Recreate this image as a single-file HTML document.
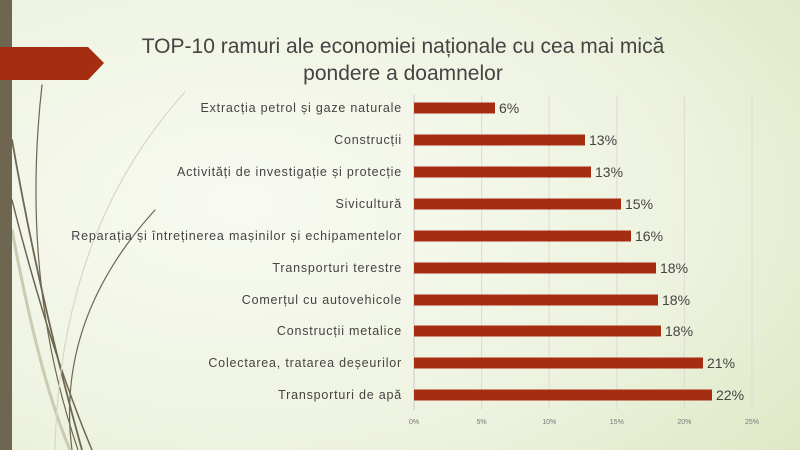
<!DOCTYPE html>
<html><head><meta charset="utf-8"><style>
body{margin:0;width:800px;height:450px;overflow:hidden;font-family:"Century Gothic","Liberation Sans",sans-serif}
</style></head><body>
<svg width="800" height="450" xmlns="http://www.w3.org/2000/svg">
<defs>
<radialGradient id="bg" cx="0.3" cy="0.45" r="0.9">
<stop offset="0" stop-color="#f8faf2"/><stop offset="0.6" stop-color="#eef3e0"/><stop offset="1" stop-color="#dde8c4"/></radialGradient>
</defs>
<rect width="800" height="450" fill="url(#bg)"/>
<g fill="none" stroke-linecap="round">
<path d="M12 140 Q40 300 82 450" stroke="#6e6650" stroke-width="1.8"/>
<path d="M42 85 Q20 280 78 450" stroke="#6e6650" stroke-width="1.2"/>
<path d="M12 200 Q50 350 92 450" stroke="#6e6650" stroke-width="1.5"/>
<path d="M155 210 Q55 320 72 450" stroke="#6e6650" stroke-width="1.2"/>
<path d="M12 230 Q40 380 70 450" stroke="#c9ccb0" stroke-width="3"/>
<path d="M185 92 Q60 230 55 450" stroke="#d5d8c4" stroke-width="1.2"/>
</g>
<rect x="0" y="0" width="12" height="450" fill="#6e6650"/>
<polygon points="0,47 88,47 104,63 88,80 0,80" fill="#a52e12"/>
<text x="403" y="53" font-size="21" fill="#444" text-anchor="middle">TOP-10 ramuri ale economiei naționale cu cea mai mică</text>
<text x="403" y="80" font-size="21" fill="#444" text-anchor="middle">pondere a doamnelor</text>
<g stroke="#dcdcd4" stroke-width="1">
<line x1="481.6" y1="95" x2="481.6" y2="410"/><line x1="549.2" y1="95" x2="549.2" y2="410"/><line x1="616.8" y1="95" x2="616.8" y2="410"/><line x1="684.4" y1="95" x2="684.4" y2="410"/><line x1="752" y1="95" x2="752" y2="410"/>
</g>
<line x1="414" y1="95" x2="414" y2="410" stroke="#ccc"/>
<g font-size="7" fill="#777" text-anchor="middle">
<text x="414" y="424">0%</text><text x="481.6" y="424">5%</text><text x="549.2" y="424">10%</text><text x="616.8" y="424">15%</text><text x="684.4" y="424">20%</text><text x="752" y="424">25%</text>
</g>
<g fill="#a52e12">
<rect x="414" y="102.5" width="81" height="11"/>
<rect x="414" y="134.5" width="171" height="11"/>
<rect x="414" y="166.5" width="177" height="11"/>
<rect x="414" y="198.5" width="207" height="11"/>
<rect x="414" y="230.5" width="217" height="11"/>
<rect x="414" y="262.5" width="242" height="11"/>
<rect x="414" y="294.5" width="244" height="11"/>
<rect x="414" y="325.5" width="247" height="11"/>
<rect x="414" y="357.5" width="289" height="11"/>
<rect x="414" y="389.5" width="298" height="11"/>
</g>
<g font-size="14" fill="#444">
<text x="499" y="113">6%</text><text x="589" y="145">13%</text><text x="595" y="177">13%</text><text x="625" y="209">15%</text><text x="635" y="241">16%</text><text x="660" y="273">18%</text><text x="662" y="305">18%</text><text x="665" y="336">18%</text><text x="707" y="368">21%</text><text x="716" y="400">22%</text>
</g>
<g font-size="12.5" fill="#444" text-anchor="end" letter-spacing="0.8">
<text x="402" y="112">Extracția petrol și gaze naturale</text>
<text x="402" y="144">Construcții</text>
<text x="402" y="176">Activități de investigație și protecție</text>
<text x="402" y="208">Sivicultură</text>
<text x="402" y="240">Reparația și întreținerea mașinilor și echipamentelor</text>
<text x="402" y="272">Transporturi terestre</text>
<text x="402" y="304">Comerțul cu autovehicole</text>
<text x="402" y="335">Construcții metalice</text>
<text x="402" y="367">Colectarea, tratarea deșeurilor</text>
<text x="402" y="399">Transporturi de apă</text>
</g>
</svg>
</body></html>
